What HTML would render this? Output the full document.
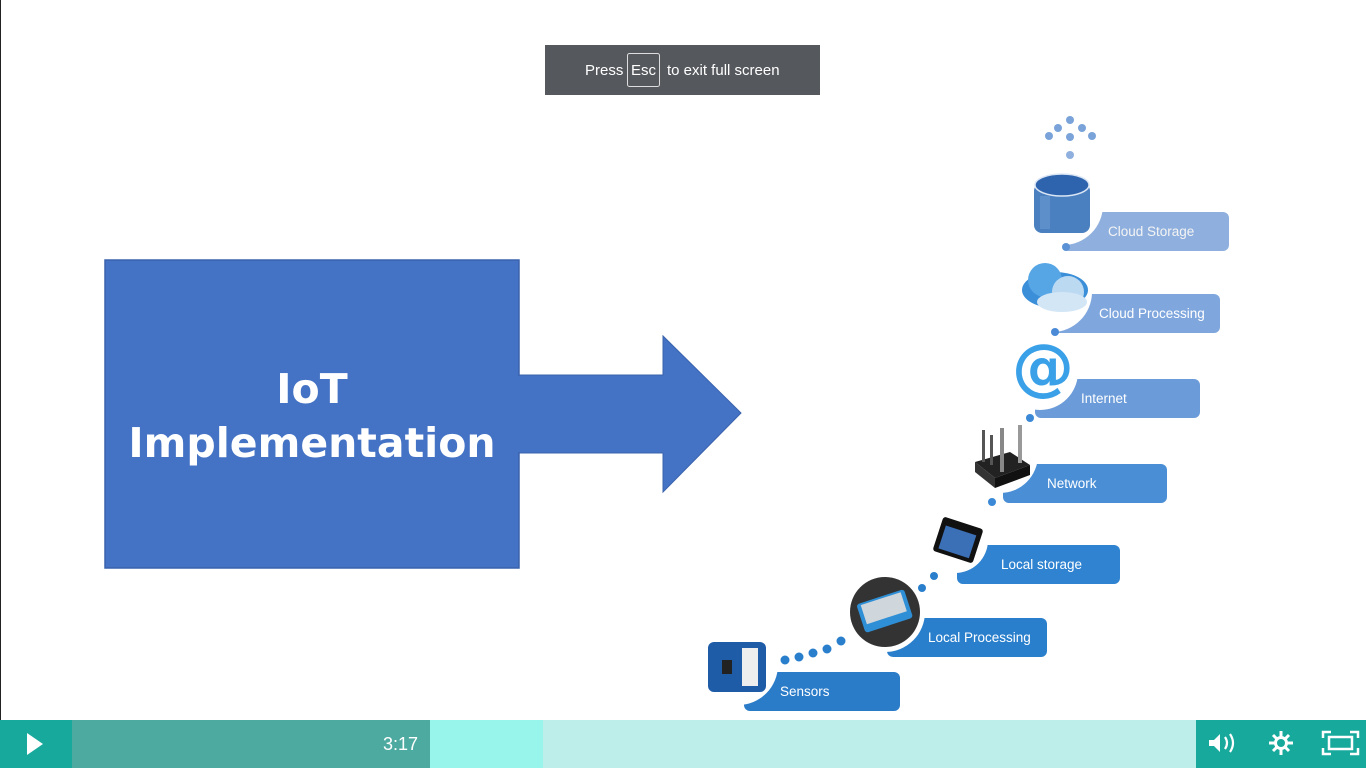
<!DOCTYPE html>
<html><head><meta charset="utf-8"><style>
html,body{margin:0;padding:0;width:1366px;height:768px;overflow:hidden;background:#fff;font-family:"Liberation Sans",sans-serif}
</style></head><body>
<svg width="1366" height="768" viewBox="0 0 1366 768" xmlns="http://www.w3.org/2000/svg" style="position:absolute;left:0;top:0">
<rect x="0" y="0" width="1" height="720" fill="#222"/>
<rect x="105" y="260" width="414" height="308" fill="#4472c4" stroke="#3a63ad" stroke-width="1.5"/>
<polygon points="519,375 663,375 663,336 741,413 663,492 663,453 519,453" fill="#4472c4" stroke="#3a63ad" stroke-width="1"/>
<rect x="515" y="376" width="8" height="76" fill="#4472c4"/>
<text x="312" y="403" text-anchor="middle" font-size="41" font-weight="bold" fill="#fff" font-family="DejaVu Sans,Liberation Sans,sans-serif">IoT</text>
<text x="312" y="457" text-anchor="middle" font-size="41" font-weight="bold" fill="#fff" font-family="DejaVu Sans,Liberation Sans,sans-serif">Implementation</text>

<g font-size="13.5" fill="#fff">
<rect x="1063" y="212" width="166" height="39" rx="6" fill="#8fb0de"/>
<text x="1108" y="236" fill="#f4f4f4">Cloud Storage</text>
<rect x="1052" y="294" width="168" height="39" rx="6" fill="#80a7dd"/>
<text x="1099" y="318">Cloud Processing</text>
<rect x="1035" y="379" width="165" height="39" rx="6" fill="#6b9bd8"/>
<text x="1081" y="403">Internet</text>
<rect x="1003" y="464" width="164" height="39" rx="6" fill="#4a8fd6"/>
<text x="1047" y="488">Network</text>
<rect x="957" y="545" width="163" height="39" rx="6" fill="#2f83d0"/>
<text x="1001" y="569">Local storage</text>
<rect x="887" y="618" width="160" height="39" rx="6" fill="#2a7fcc"/>
<text x="928" y="642">Local Processing</text>
<rect x="744" y="672" width="156" height="39" rx="6" fill="#2a7bc8"/>
<text x="780" y="696">Sensors</text>
</g>
<g fill="#fff">
<circle cx="1063" cy="205" r="40"/>
<circle cx="1052" cy="292" r="40"/>
<circle cx="1040" cy="372" r="38"/>
<circle cx="1000" cy="455" r="38"/>
<circle cx="955" cy="540" r="33"/>
<circle cx="885" cy="612" r="40"/>
<circle cx="738" cy="665" r="40"/>
</g>
<g fill="#4a8fd6">
<circle cx="1070" cy="120" r="4" fill="#7aa3d9"/><circle cx="1058" cy="128" r="4" fill="#7aa3d9"/><circle cx="1082" cy="128" r="4" fill="#7aa3d9"/>
<circle cx="1049" cy="136" r="4" fill="#7aa3d9"/><circle cx="1070" cy="137" r="4" fill="#7aa3d9"/><circle cx="1092" cy="136" r="4" fill="#7aa3d9"/>
<circle cx="1070" cy="155" r="4" fill="#8fb0de"/>
<circle cx="1066" cy="247" r="4" fill="#5b92d6"/>
<circle cx="1055" cy="332" r="4" fill="#4a8ad6"/>
<circle cx="1030" cy="418" r="4" fill="#3a88d6"/>
<circle cx="992" cy="502" r="4" fill="#3a88d6"/>
<circle cx="934" cy="576" r="4" fill="#2a7fcc"/><circle cx="922" cy="588" r="4" fill="#2a7fcc"/>
<circle cx="841" cy="641" r="4.5" fill="#2a7fcc"/><circle cx="827" cy="649" r="4.5" fill="#2a7fcc"/><circle cx="813" cy="653" r="4.5" fill="#2a7fcc"/><circle cx="799" cy="657" r="4.5" fill="#2a7fcc"/><circle cx="785" cy="660" r="4.5" fill="#2a7fcc"/>
</g>
<rect x="1034" y="183" width="56" height="50" rx="8" fill="#4a7fc0"/>
<ellipse cx="1062" cy="185" rx="27" ry="11" fill="#2e63ad" stroke="#dbe6f5" stroke-width="1.5"/>
<rect x="1040" y="196" width="10" height="33" fill="#6b9ad2" opacity=".6"/>
<g>
<ellipse cx="1055" cy="290" rx="33" ry="18" fill="#3b8fd8"/>
<circle cx="1045" cy="280" r="17" fill="#56a6e6"/>
<circle cx="1068" cy="292" r="16" fill="#bcd9f2"/>
<ellipse cx="1062" cy="302" rx="25" ry="10" fill="#d3e6f6"/>
</g>
<text x="1043" y="388" text-anchor="middle" font-size="62" font-weight="bold" fill="#3aa0e8" font-family="DejaVu Sans,sans-serif">@</text>
<polygon points="975,462 1010,452 1030,465 995,478" fill="#222"/>
<polygon points="975,462 995,478 995,488 975,472" fill="#333"/>
<polygon points="995,478 1030,465 1030,475 995,488" fill="#111"/>
<rect x="982" y="430" width="3" height="32" fill="#555"/><rect x="990" y="435" width="3" height="30" fill="#555"/>
<rect x="1000" y="428" width="4" height="44" fill="#888"/><rect x="1018" y="425" width="4" height="38" fill="#999"/>
<g transform="rotate(18 958 540)"><rect x="937" y="522" width="42" height="36" rx="3" fill="#111"/><rect x="942" y="530" width="32" height="24" fill="#3b6fb6"/></g>
<circle cx="885" cy="612" r="35" fill="#333"/>
<g transform="rotate(-18 885 612)"><rect x="860" y="596" width="50" height="30" rx="3" fill="#2e8fd6"/><rect x="864" y="598" width="42" height="20" fill="#cfd6dc"/></g>
<rect x="708" y="642" width="58" height="50" rx="6" fill="#1f5ca8"/>
<rect x="742" y="648" width="16" height="38" fill="#eee"/>
<rect x="722" y="660" width="10" height="14" fill="#222"/>

<rect x="545" y="45" width="275" height="50" fill="#55585c"/>
<rect x="627.5" y="53.5" width="32" height="33" rx="2" fill="none" stroke="#ddd" stroke-width="1"/>
<g fill="#fff" font-family="Liberation Sans,sans-serif" font-size="15">
<text x="585" y="75">Press</text>
<text x="643.5" y="75" text-anchor="middle">Esc</text>
<text x="667" y="75">to exit full screen</text>
</g>

<rect x="0" y="720" width="1366" height="48" fill="#bdeeea"/>
<rect x="0" y="720" width="72" height="48" fill="#17a99c"/>
<rect x="72" y="720" width="358" height="48" fill="#4daaa1"/>
<rect x="430" y="720" width="113" height="48" fill="#98f5eb"/>
<rect x="1196" y="720" width="170" height="48" fill="#17a99c"/>
<polygon points="27,733 43,744 27,755" fill="#fff"/>
<text x="418" y="750" text-anchor="end" font-size="18" fill="#fff">3:17</text>
<polygon points="1209,740 1214,740 1220,734 1220,752 1214,746 1209,746" fill="#fff"/>
<path d="M1225,737 q4,6 0,12" stroke="#fff" stroke-width="2.2" fill="none"/>
<path d="M1230,734 q6,9 0,18" stroke="#fff" stroke-width="2.2" fill="none"/>
<g stroke="#fff" stroke-width="3">
<line x1="1281" y1="731" x2="1281" y2="755"/><line x1="1269" y1="743" x2="1293" y2="743"/>
<line x1="1273" y1="735" x2="1289" y2="751"/><line x1="1289" y1="735" x2="1273" y2="751"/>
</g>
<circle cx="1281" cy="743" r="7" fill="#fff"/><circle cx="1281" cy="743" r="4" fill="#17a99c"/>
<g stroke="#fff" stroke-width="2.5" fill="none">
<path d="M1323,738 v-6 h8"/><path d="M1350,732 h8 v6"/><path d="M1323,748 v6 h8"/><path d="M1350,754 h8 v-6"/>
<rect x="1329" y="737" width="23" height="12"/>
</g>
</svg>
</body></html>
